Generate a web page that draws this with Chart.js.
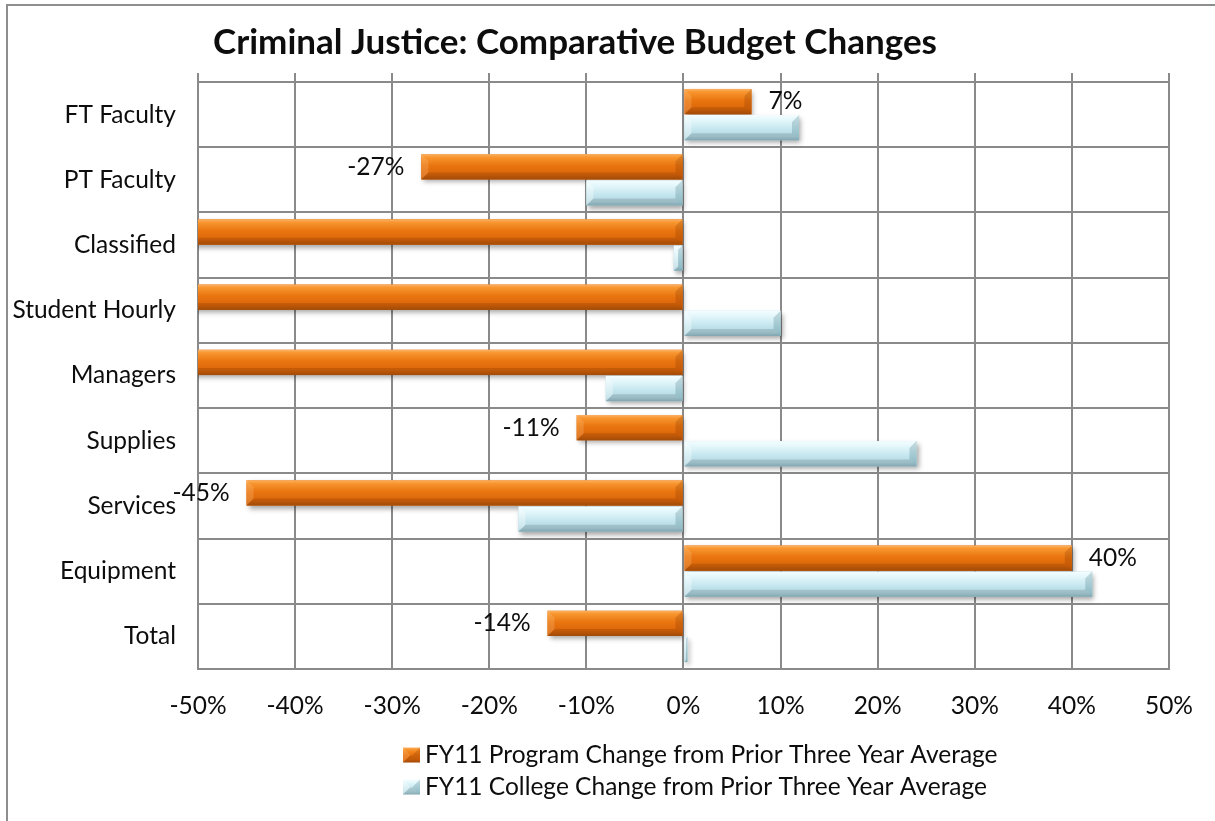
<!DOCTYPE html>
<html>
<head>
<meta charset="utf-8">
<title>Criminal Justice: Comparative Budget Changes</title>
<script src="https://cdn.jsdelivr.net/npm/chart.js@4/dist/chart.umd.min.js"></script>
<style>
    html, body { margin: 0; padding: 0; background: #ffffff; overflow: hidden; }
    #grafico { display: block; }
</style>
</head>
<body>
<canvas id="grafico" width="1215" height="821"></canvas>
<script>
var categorias = ['FT Faculty', 'PT Faculty', 'Classified', 'Student Hourly', 'Managers', 'Supplies', 'Services', 'Equipment', 'Total'];
var variacaoPrograma = [7, -27, -100, -100, -100, -11, -45, 40, -14];
var variacaoFaculdade = [11.9, -10, -1, 10, -8, 24, -17, 42.1, 0.4];
var nomesSeries = ['FY11 Program Change from Prior Three Year Average', 'FY11 College Change from Prior Three Year Average'];
var eixoMin = -50;
var eixoMax = 50;
var eixoPasso = 10;

(function () {
    var fonte = 'Lato, "Open Sans", sans-serif';
    var tamanhoFonte = 24.5;
    var corTexto = '#0d0d0d';
    var corGrade = '#8a8a8a';

    var estilos = [
        {
            base: '#E46C0A',
            paradas: [[0, '#FBB266'], [0.12, '#F8962F'], [0.45, '#E9750F'], [0.8, '#DC660A'], [1, '#B8560A']],
            pontaClara: 'rgba(255, 200, 140, 0.25)',
            pontaEscura: 'rgba(120, 45, 0, 0.22)'
        },
        {
            base: '#B7DEE8',
            paradas: [[0, '#F4FDFF'], [0.2, '#E4F7FB'], [0.55, '#C6E7EF'], [0.85, '#B1D7E1'], [1, '#94BDC9']],
            pontaClara: 'rgba(255, 255, 255, 0.35)',
            pontaEscura: 'rgba(60, 110, 125, 0.25)'
        }
    ];

    function gradiente(ctx, topo, fundo, estilo) {
        var g = ctx.createLinearGradient(0, topo, 0, fundo);
        estilo.paradas.forEach(function (p) {
            g.addColorStop(p[0], p[1]);
        });
        return g;
    }

    // barra com faces chanfradas nas pontas
    function pintarBarra(ctx, esq, dir, topo, fundo, estilo) {
        var b = Math.min(7, (dir - esq) / 2, (fundo - topo) / 2);

        ctx.fillStyle = gradiente(ctx, topo, fundo, estilo);
        ctx.fillRect(esq, topo, dir - esq, fundo - topo);

        ctx.fillStyle = estilo.pontaClara;
        ctx.beginPath();
        ctx.moveTo(esq, topo);
        ctx.lineTo(esq + b, topo + b);
        ctx.lineTo(esq + b, fundo - b);
        ctx.lineTo(esq, fundo);
        ctx.closePath();
        ctx.fill();

        ctx.fillStyle = estilo.pontaEscura;
        ctx.beginPath();
        ctx.moveTo(dir, topo);
        ctx.lineTo(dir - b, topo + b);
        ctx.lineTo(dir - b, fundo - b);
        ctx.lineTo(dir, fundo);
        ctx.closePath();
        ctx.fill();

        ctx.fillStyle = 'rgba(0, 0, 0, 0.12)';
        ctx.beginPath();
        ctx.moveTo(esq, fundo);
        ctx.lineTo(esq + b, fundo - b);
        ctx.lineTo(dir - b, fundo - b);
        ctx.lineTo(dir, fundo);
        ctx.closePath();
        ctx.fill();
    }

    var moldura = {
        id: 'moldura',
        beforeDraw: function (chart) {
            var ctx = chart.ctx;
            ctx.save();
            ctx.fillStyle = '#ffffff';
            ctx.fillRect(0, 0, chart.width, chart.height);
            ctx.strokeStyle = '#8e8e8e';
            ctx.lineWidth = 2;
            ctx.beginPath();
            ctx.moveTo(7, chart.height);
            ctx.lineTo(7, 5);
            ctx.lineTo(chart.width, 5);
            ctx.stroke();
            ctx.restore();
        }
    };

    var relevoBarras = {
        id: 'relevoBarras',
        beforeDatasetsDraw: function (chart) {
            var ctx = chart.ctx;
            ctx.save();
            ctx.shadowColor = 'rgba(0, 0, 0, 0.35)';
            ctx.shadowBlur = 5;
            ctx.shadowOffsetX = 2;
            ctx.shadowOffsetY = 3;
        },
        afterDatasetsDraw: function (chart) {
            var ctx = chart.ctx;
            var area = chart.chartArea;
            ctx.restore();

            ctx.save();
            ctx.beginPath();
            ctx.rect(area.left, area.top, area.right - area.left, area.bottom - area.top);
            ctx.clip();

            chart.data.datasets.forEach(function (ds, i) {
                var meta = chart.getDatasetMeta(i);
                meta.data.forEach(function (el) {
                    var p = el.getProps(['x', 'y', 'base', 'height'], true);
                    var esq = Math.min(p.x, p.base);
                    var dir = Math.max(p.x, p.base);
                    pintarBarra(ctx, esq, dir, p.y - p.height / 2, p.y + p.height / 2, estilos[i]);
                });
            });
            ctx.restore();

            // rotulos da serie do programa
            var escalaX = chart.scales.x;
            var metaPrograma = chart.getDatasetMeta(0);
            ctx.save();
            ctx.font = tamanhoFonte + 'px ' + fonte;
            ctx.fillStyle = corTexto;
            ctx.textBaseline = 'middle';
            metaPrograma.data.forEach(function (el, idx) {
                var valor = variacaoPrograma[idx];
                if (valor < escalaX.min || valor > escalaX.max) {
                    return;
                }
                var p = el.getProps(['x', 'y'], true);
                var texto = Math.round(valor) + '%';
                if (valor >= 0) {
                    ctx.textAlign = 'left';
                    ctx.fillText(texto, p.x + 17, p.y);
                } else {
                    ctx.textAlign = 'right';
                    ctx.fillText(texto, p.x - 17, p.y);
                }
            });
            ctx.restore();
        }
    };

    var tituloELegenda = {
        id: 'tituloELegenda',
        afterDraw: function (chart) {
            var ctx = chart.ctx;
            ctx.save();
            ctx.fillStyle = corTexto;
            ctx.font = 'bold 35px ' + fonte;
            ctx.textAlign = 'center';
            ctx.textBaseline = 'alphabetic';
            ctx.fillText('Criminal Justice: Comparative Budget Changes', 575, 54);

            ctx.font = tamanhoFonte + 'px ' + fonte;
            ctx.textAlign = 'left';
            ctx.textBaseline = 'middle';
            var linhas = [755, 787];
            nomesSeries.forEach(function (nome, i) {
                var y = linhas[i];
                pintarBarra(ctx, 403, 420, y - 7.5, y + 7.5, estilos[i]);
                ctx.fillStyle = corTexto;
                ctx.fillText(nome, 425, y);
            });
            ctx.restore();
        }
    };

    new Chart(document.getElementById('grafico'), {
        type: 'bar',
        data: {
            labels: categorias,
            datasets: [
                {
                    label: nomesSeries[0],
                    data: variacaoPrograma,
                    backgroundColor: estilos[0].base,
                    categoryPercentage: 0.8,
                    barPercentage: 0.97
                },
                {
                    label: nomesSeries[1],
                    data: variacaoFaculdade,
                    backgroundColor: estilos[1].base,
                    categoryPercentage: 0.8,
                    barPercentage: 0.97
                }
            ]
        },
        options: {
            indexAxis: 'y',
            responsive: false,
            animation: false,
            events: [],
            layout: { padding: { top: 0, left: 0, right: 46, bottom: 0 } },
            plugins: {
                legend: { display: false },
                title: { display: false },
                tooltip: { enabled: false }
            },
            scales: {
                x: {
                    type: 'linear',
                    position: 'bottom',
                    min: eixoMin,
                    max: eixoMax,
                    ticks: {
                        stepSize: eixoPasso,
                        padding: 22,
                        color: corTexto,
                        font: { family: fonte, size: tamanhoFonte },
                        callback: function (v) { return v + '%'; }
                    },
                    grid: { color: corGrade, lineWidth: 2, drawTicks: false },
                    border: { color: corGrade, width: 2 },
                    afterFit: function (escala) { escala.height = 152; }
                },
                xTopo: {
                    type: 'linear',
                    position: 'top',
                    min: eixoMin,
                    max: eixoMax,
                    ticks: { display: false, stepSize: eixoPasso },
                    grid: { drawOnChartArea: false, drawTicks: true, tickLength: 9, color: corGrade, lineWidth: 2 },
                    border: { display: false },
                    afterFit: function (escala) { escala.height = 82; }
                },
                y: {
                    ticks: {
                        padding: 22,
                        color: corTexto,
                        font: { family: fonte, size: tamanhoFonte }
                    },
                    grid: { color: corGrade, lineWidth: 2, drawTicks: false, offset: true },
                    border: { color: corGrade, width: 2 },
                    afterFit: function (escala) { escala.width = 198; }
                }
            }
        },
        plugins: [moldura, relevoBarras, tituloELegenda]
    });
})();
</script>
</body>
</html>
